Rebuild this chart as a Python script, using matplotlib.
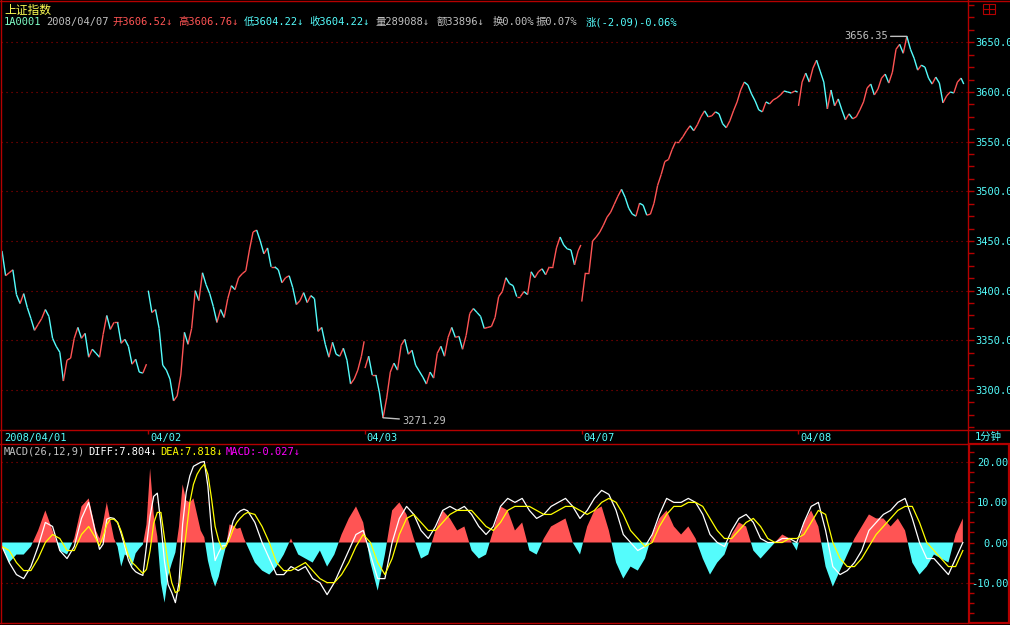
import numpy as np
import matplotlib
matplotlib.use('Agg')
import matplotlib.pyplot as plt
from matplotlib.collections import LineCollection
from matplotlib.patches import Rectangle
from matplotlib.lines import Line2D

plt.rcParams['font.family'] = ['DejaVu Sans Mono', 'Noto Sans CJK SC']

# 1-minute chart of 上证指数, read every 4 minutes; minute index inside each trading day
day_labels = ['2008/04/01', '04/02', '04/03', '04/07', '04/08']
day_start = [-78, 162, 402, 642, 882]   # chart position of each day's first minute

min_0401 = np.arange(78, 240, 4)
px_0401 = [3440, 3415, 3418, 3421, 3396, 3387, 3397, 3383, 3372, 3360,
           3366, 3372, 3381, 3374, 3352, 3344, 3338, 3309, 3330, 3332,
           3352, 3363, 3352, 3357, 3333, 3341, 3337, 3333, 3356, 3375,
           3361, 3368, 3368, 3347, 3351, 3344, 3326, 3331, 3318, 3317, 3326]
min_full = np.r_[0:240:4, 239]
px_0402 = [3400, 3378, 3381, 3362, 3325, 3320, 3311, 3289, 3294, 3315,
           3358, 3346, 3362, 3400, 3390, 3418, 3406, 3397, 3384, 3368,
           3381, 3373, 3392, 3405, 3401, 3413, 3417, 3420, 3441, 3459,
           3461, 3450, 3437, 3443, 3424, 3424, 3421, 3408, 3413, 3415,
           3403, 3386, 3390, 3398, 3388, 3395, 3392, 3359, 3363, 3346,
           3333, 3348, 3336, 3334, 3342, 3330, 3306, 3311, 3320, 3334, 3349]
px_0403 = [3322, 3334, 3315, 3315, 3297, 3272, 3292, 3318, 3327, 3320,
           3345, 3351, 3336, 3340, 3325, 3319, 3313, 3306, 3318, 3312,
           3337, 3344, 3334, 3353, 3363, 3353, 3354, 3341, 3355, 3377,
           3382, 3378, 3374, 3362, 3363, 3364, 3373, 3394, 3399, 3413,
           3407, 3405, 3394, 3394, 3399, 3396, 3419, 3413, 3419, 3422,
           3416, 3424, 3424, 3443, 3454, 3446, 3442, 3441, 3426, 3440, 3446]
px_0407 = [3389, 3418, 3418, 3450, 3454, 3459, 3466, 3474, 3479, 3487,
           3495, 3502, 3494, 3483, 3477, 3475, 3488, 3486, 3476, 3477,
           3488, 3506, 3517, 3530, 3532, 3542, 3550, 3550, 3555, 3561,
           3566, 3561, 3567, 3575, 3581, 3575, 3576, 3580, 3578, 3568,
           3564, 3571, 3581, 3590, 3602, 3610, 3607, 3598, 3591, 3582,
           3580, 3590, 3588, 3592, 3594, 3597, 3601, 3600, 3599, 3601, 3600]
min_0408 = np.r_[0:184:4, 183]
px_0408 = [3586, 3610, 3619, 3610, 3624, 3632, 3621, 3610, 3583, 3602,
           3586, 3593, 3582, 3572, 3578, 3573, 3575, 3582, 3590, 3604,
           3608, 3597, 3603, 3614, 3618, 3609, 3620, 3643, 3648, 3639,
           3656, 3643, 3634, 3622, 3627, 3625, 3614, 3608, 3615, 3609,
           3589, 3596, 3600, 3599, 3610, 3614, 3608]

# MACD(26,12,9), chart minute of each reading (finer where the picture was read closer)
macd_t = np.r_[0:108:8, 108:276:4, 280:1068:8]
macd_bar = [-1, -5, -3, -3, -1, 3, 8, 3, -2, -3, 1, 9, 11, 3,
            1, 5, 10, 5.5, 1, -1, -6, -3, -3.5, -6,
            -2.7, -1.5, -0.5, 4.5, 18.5, 7, 1.5, -10, -15, -8.3,
            -5.2, -2.5, 4, 14.5, 10.5, 10, 11, 7, 3, 1.3,
            -4.5, -8.3, -11, -8.5, -4.5, -1, 4.5, 4.2, 3.4, 3.7,
            1, -1,
            -5, -7, -8, -6, -3,
            1, -3, -4, -5, -2, -6, -3, 2, 6, 9,
            5, -5, -12, -3, 8, 10, 7, 1, -4, -3,
            3, 8, 6, 3, 4, -2, -4, -3, 3, 9,
            8, 3, 5, -2, -3, 1, 4, 5, 6, 0,
            -3, 4, 8, 9, 3, -5, -9, -6, -7, -4,
            2, 6, 8, 4, 2, 4, 1, -4, -8, -5,
            -3, 2, 5, 4, -2, -4, -2, 0, 2, 1,
            -2, 5, 8, 4, -6, -11, -7, -3, 1, 4,
            7, 6, 6, 4, 6, 3, -5, -8, -6, -3,
            -4, -5, 2, 6]
diff = [-1, -5, -8, -9, -6, -1, 5, 4, -2, -4, -1, 6, 10, 2,
        -1.7, -0.4, 5.8, 6.2, 6, 5, 2.2, -1, -4.4, -6.3,
        -7.3, -7.8, -8.2, -0.8, 6.6, 11.5, 12.3, 4.5, -4.8, -10.5,
        -12.5, -15, -10, 4.5, 12.5, 16.6, 19, 19.5, 20, 20.2,
        14, 3, -4.5, -2.5, -0.8, -0.8, 2, 5.4, 7.1, 7.9,
        8.3, 7.9,
        5, 0, -4, -8, -8,
        -6, -7, -6, -9, -10, -13, -10, -6, -2, 2,
        3, -3, -9, -9, 0, 6, 9, 7, 3, 1,
        4, 8, 9, 8, 9, 7, 4, 2, 4, 9,
        11, 10, 11, 8, 6, 7, 9, 10, 11, 9,
        6, 8, 11, 13, 12, 8, 2, 0, -2, -1,
        2, 7, 11, 10, 10, 11, 10, 7, 2, 0,
        -1, 3, 6, 7, 5, 1, 0, 0, 1, 1,
        0, 5, 9, 10, 3, -6, -8, -7, -5, -2,
        3, 5, 7, 8, 10, 11, 6, 0, -4, -4,
        -6, -8, -4, 0]
dea = [-1, -2, -5, -7, -7, -4, 0, 2, 1, -2, -2, 2, 4, 1,
       -0.8, 1.5, 4.5, 5.8, 5.8, 5, 2.8, -0.2, -3.2, -5,
       -5.8, -6.8, -7.7, -6.7, -2, 4.8, 7.5, 7.5, 1, -5.5,
       -10, -12.5, -12, -5, 2.5, 10, 14.5, 17, 18.5, 19.5,
       17, 11, 4, 0.5, -1.7, -1, 0.9, 3.3, 5, 6.1,
       7, 7.5,
       7, 4, 0, -5, -7,
       -7, -6, -5, -7, -9, -10, -10, -8, -5, -1,
       2, 0, -5, -8, -4, 2, 6, 7, 5, 3,
       3, 5, 7, 8, 8, 8, 6, 4, 3, 5,
       8, 9, 9, 9, 8, 7, 7, 8, 9, 9,
       8, 7, 8, 10, 11, 10, 7, 3, 1, -1,
       0, 4, 7, 9, 9, 10, 10, 9, 6, 3,
       1, 1, 3, 5, 6, 4, 1, 0, 0, 1,
       1, 2, 5, 8, 7, 0, -4, -6, -6, -4,
       -1, 2, 4, 6, 8, 9, 9, 5, 0, -2,
       -4, -6, -6, -2]

price_ticks = np.arange(3300, 3651, 50)
macd_ticks = [-10, 0, 10, 20]

UP = '#ff5454'
DN = '#54fcfc'
BORDER = '#b40000'
GRID = '#a00000'
GRAY = '#c0c0c0'

W, H = 1010, 625
fig = plt.figure(figsize=(W / 100, H / 100), dpi=100, facecolor='black')


def px_axes(l, t, r, b):
    return fig.add_axes([l / W, 1 - b / H, (r - l) / W, (b - t) / H])


def ftext(x, y, s, color, size=7.5, **kw):
    fig.text(x / W, 1 - y / H, s, color=color, fontsize=size, va='center', **kw)


def fline(x0, y0, x1, y1, lw=1.0):
    fig.add_artist(Line2D([x0 / W, x1 / W], [1 - y0 / H, 1 - y1 / H], color=BORDER, lw=lw))


xlim = (-1.1, 1069.7)

# ---- price panel
ax = px_axes(1, 1, 968, 430)
ax.set_facecolor('black')
ax.set_xlim(*xlim)
ax.set_ylim(3259.7, 3691.6)
for s in ax.spines.values():
    s.set_visible(False)
ax.set_xticks([])
ax.yaxis.tick_right()
ax.set_yticks(price_ticks)
ax.set_yticks(np.arange(3262.5, 3690, 12.5), minor=True)
ax.set_yticklabels(['%.2f' % v for v in price_ticks])
ax.tick_params(axis='y', which='both', colors=BORDER, labelcolor=DN, labelsize=7.5, length=4, width=1, pad=1)
for v in price_ticks:
    ax.axhline(v, color=GRID, lw=0.8, ls=(0, (1, 3.5)), zorder=1)

days = [(min_0401, px_0401), (min_full, px_0402), (min_full, px_0403),
        (min_full, px_0407), (min_0408, px_0408)]
for (mins, vals), start in zip(days, day_start):
    t = start + np.asarray(mins)
    v = np.asarray(vals, float)
    pts = np.column_stack([t, v])
    segs = np.stack([pts[:-1], pts[1:]], axis=1)
    cols = [UP if b >= a else DN for a, b in zip(v[:-1], v[1:])]
    ax.add_collection(LineCollection(segs, colors=cols, linewidths=1.0, zorder=3))

# high / low marks
hi_v = max(px_0408)
hi_t = day_start[4] + min_0408[px_0408.index(hi_v)]
ax.annotate('3656.35', xy=(hi_t, hi_v), xytext=(-19, 0), textcoords='offset pixels',
            ha='right', va='center', color=GRAY, fontsize=7.5,
            arrowprops=dict(arrowstyle='-', color=GRAY, lw=1, shrinkA=0, shrinkB=0))
lo_v = min(px_0403)
lo_t = day_start[2] + min_full[px_0403.index(lo_v)]
ax.annotate('3271.29', xy=(lo_t, lo_v), xytext=(19, -3), textcoords='offset pixels',
            ha='left', va='center', color=GRAY, fontsize=7.5,
            arrowprops=dict(arrowstyle='-', color=GRAY, lw=1, shrinkA=0, shrinkB=0))

# ---- date strip
axd = px_axes(1, 430, 968, 444)
axd.set_facecolor('black')
axd.set_xlim(*xlim)
axd.set_ylim(0, 1)
for s in axd.spines.values():
    s.set_visible(False)
axd.set_yticks([])
axd.set_xticks(day_start[1:])
axd.xaxis.tick_top()
axd.tick_params(axis='x', colors=BORDER, direction='in', length=3, width=1, labeltop=False)
axd.text(2, 0.45, day_labels[0], color=DN, fontsize=7.5, va='center', ha='left')
for lab, st in zip(day_labels[1:], day_start[1:]):
    axd.text(st + 2, 0.45, lab, color=DN, fontsize=7.5, va='center', ha='left')
ftext(975, 437, '1分钟', DN)

# ---- MACD panel
axm = px_axes(1, 444, 968, 623)
axm.set_facecolor('black')
axm.set_xlim(*xlim)
axm.set_ylim(-20.07, 24.56)
for s in axm.spines.values():
    s.set_visible(False)
axm.set_xticks([])
axm.yaxis.tick_right()
axm.set_yticks(macd_ticks)
axm.set_yticks(np.arange(-17.5, 24, 2.5), minor=True)
axm.set_yticklabels(['%.2f' % v for v in macd_ticks])
axm.tick_params(axis='y', which='both', colors=BORDER, labelcolor=DN, labelsize=7.5, length=4, width=1, pad=25)
for lb in axm.get_yticklabels():
    lb.set_ha('right')
for v in [-10, 10, 20]:
    axm.axhline(v, color=GRID, lw=0.8, ls=(0, (1, 3.5)), zorder=1)

bar = np.asarray(macd_bar, float)
axm.fill_between(macd_t, bar, 0, where=bar >= 0, interpolate=True, color=UP, lw=0, zorder=2)
axm.fill_between(macd_t, bar, 0, where=bar <= 0, interpolate=True, color=DN, lw=0, zorder=2)
axm.plot(macd_t, diff, color='white', lw=0.9, zorder=3)
axm.plot(macd_t, dea, color='#ffff00', lw=0.9, zorder=3)

# ---- header texts
ftext(4, 10, '上证指数', '#ffff54', size=8.5)
ftext(4, 22, '1A0001', '#80ffc8')
ftext(46, 22, '2008/04/07', GRAY)
ftext(112, 22, '开3606.52↓', UP)
ftext(178, 22, '高3606.76↓', UP)
ftext(244, 22, '低3604.22↓', DN)
ftext(309, 22, '收3604.22↓', DN)
ftext(375, 22, '量289088↓', GRAY)
ftext(437, 22, '额33896↓', GRAY)
ftext(493, 22, '换0.00%', GRAY)
ftext(536, 22, '振0.07%', GRAY)
ftext(586, 22, '涨(-2.09)-0.06%', DN)

ftext(4, 452, 'MACD(26,12,9)', GRAY)
ftext(88, 452, 'DIFF:7.804↓', 'white')
ftext(160, 452, 'DEA:7.818↓', '#ffff00')
ftext(226, 452, 'MACD:-0.027↓', '#ff00ff')

# ---- frame lines
fline(0, 1, W, 1)
fline(1, 0, 1, 623)
fline(968, 0, 968, 444)
fline(0, 430, W, 430)
fline(0, 444, 968, 444)
fline(0, 623, 968, 623)
fig.add_artist(Rectangle((969 / W, 1 - 623 / H), 40 / W, 179 / H, transform=fig.transFigure,
                         fill=False, edgecolor=BORDER, lw=1.6))
# small window icon top right
fig.add_artist(Rectangle((983 / W, 1 - 14 / H), 12 / W, 10 / H, transform=fig.transFigure,
                         fill=False, edgecolor=BORDER, lw=0.8))
fline(989, 4, 989, 14, lw=0.8)
fline(983, 9, 995, 9, lw=0.8)

fig.savefig('out.png', dpi=100, facecolor='black')
